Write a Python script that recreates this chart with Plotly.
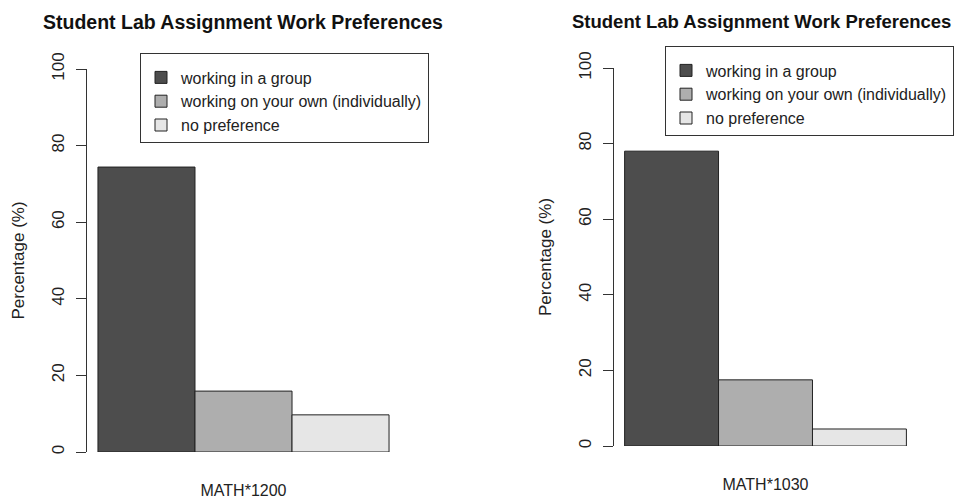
import plotly.graph_objects as go

# ── data ────────────────────────────────────────────────────────
preferences = ["working in a group", "working on your own (individually)", "no preference"]
colors = ["#4D4D4D", "#AEAEAE", "#E6E6E6"]

course_left = "MATH*1200"
pct_left = [74.4, 15.9, 9.7]

course_right = "MATH*1030"
pct_right = [78.0, 17.5, 4.5]

title = "Student Lab Assignment Work Preferences"
y_title = "Percentage (%)"
y_ticks = [0, 20, 40, 60, 80, 100]

W, H = 963, 501
OFF = 8  # default body margin of the html page
FONT = "Liberation Sans, Arial, sans-serif"


def px_x(p):
    return (p - OFF) / W


def px_y(p):
    return (H - (p - OFF)) / H


fig = go.Figure()

for i, name in enumerate(preferences):
    fig.add_trace(go.Bar(
        x=[course_left], y=[pct_left[i]], name=name,
        marker=dict(color=colors[i], line=dict(color="#222", width=1)),
        xaxis="x", yaxis="y", legend="legend", legendgroup="l%d" % i,
    ))
    fig.add_trace(go.Bar(
        x=[course_right], y=[pct_right[i]], name=name,
        marker=dict(color=colors[i], line=dict(color="#222", width=1)),
        xaxis="x2", yaxis="y2", legend="legend2", legendgroup="r%d" % i,
    ))

yaxis_style = dict(
    range=[0, 100], tickvals=y_ticks, tickangle=-90, automargin=False,
    ticks="outside", ticklen=10, tickcolor="#333", showline=True,
    linecolor="#333", linewidth=1, showgrid=False, zeroline=False,
    ticklabelstandoff=5,
    tickfont=dict(size=17, color="#222"),
    title=dict(text=y_title, font=dict(size=17, color="#222"), standoff=20),
)
xaxis_style = dict(
    showline=False, showgrid=False, zeroline=False, automargin=False,
    ticks="outside", ticklen=24, tickcolor="rgba(0,0,0,0)",
    tickfont=dict(size=16, color="#222"),
)
legend_style = dict(
    xanchor="left", yanchor="top", bordercolor="#333", borderwidth=1,
    bgcolor="white", font=dict(size=16, color="#222"), tracegroupgap=0,
    title=dict(text=" ", font=dict(size=5)),
)

fig.update_layout(
    width=W, height=H,
    margin=dict(l=0, r=0, t=0, b=0),
    paper_bgcolor="white", plot_bgcolor="white",
    font=dict(family=FONT, color="#222"),
    barmode="group", bargap=0.07, bargroupgap=0,
    xaxis=dict(domain=[px_x(87), px_x(400)], anchor="y", **xaxis_style),
    yaxis=dict(domain=[px_y(452), px_y(69)], anchor="x", **yaxis_style),
    xaxis2=dict(domain=[px_x(614), px_x(917)], anchor="y2", **xaxis_style),
    yaxis2=dict(domain=[px_y(446), px_y(68)], anchor="x2", **yaxis_style),
    legend=dict(x=px_x(140), y=px_y(53), **legend_style),
    legend2=dict(x=px_x(665), y=px_y(46), **legend_style),
    annotations=[
        dict(text="<b>%s</b>" % title, x=px_x(243), y=px_y(22), xref="paper", yref="paper",
             xanchor="center", yanchor="middle", showarrow=False,
             font=dict(size=19.5, color="#111")),
        dict(text="<b>%s</b>" % title, x=px_x(761), y=px_y(21), xref="paper", yref="paper",
             xanchor="center", yanchor="middle", showarrow=False,
             font=dict(size=18.5, color="#111")),
    ],
)

fig.write_html("out.html")
